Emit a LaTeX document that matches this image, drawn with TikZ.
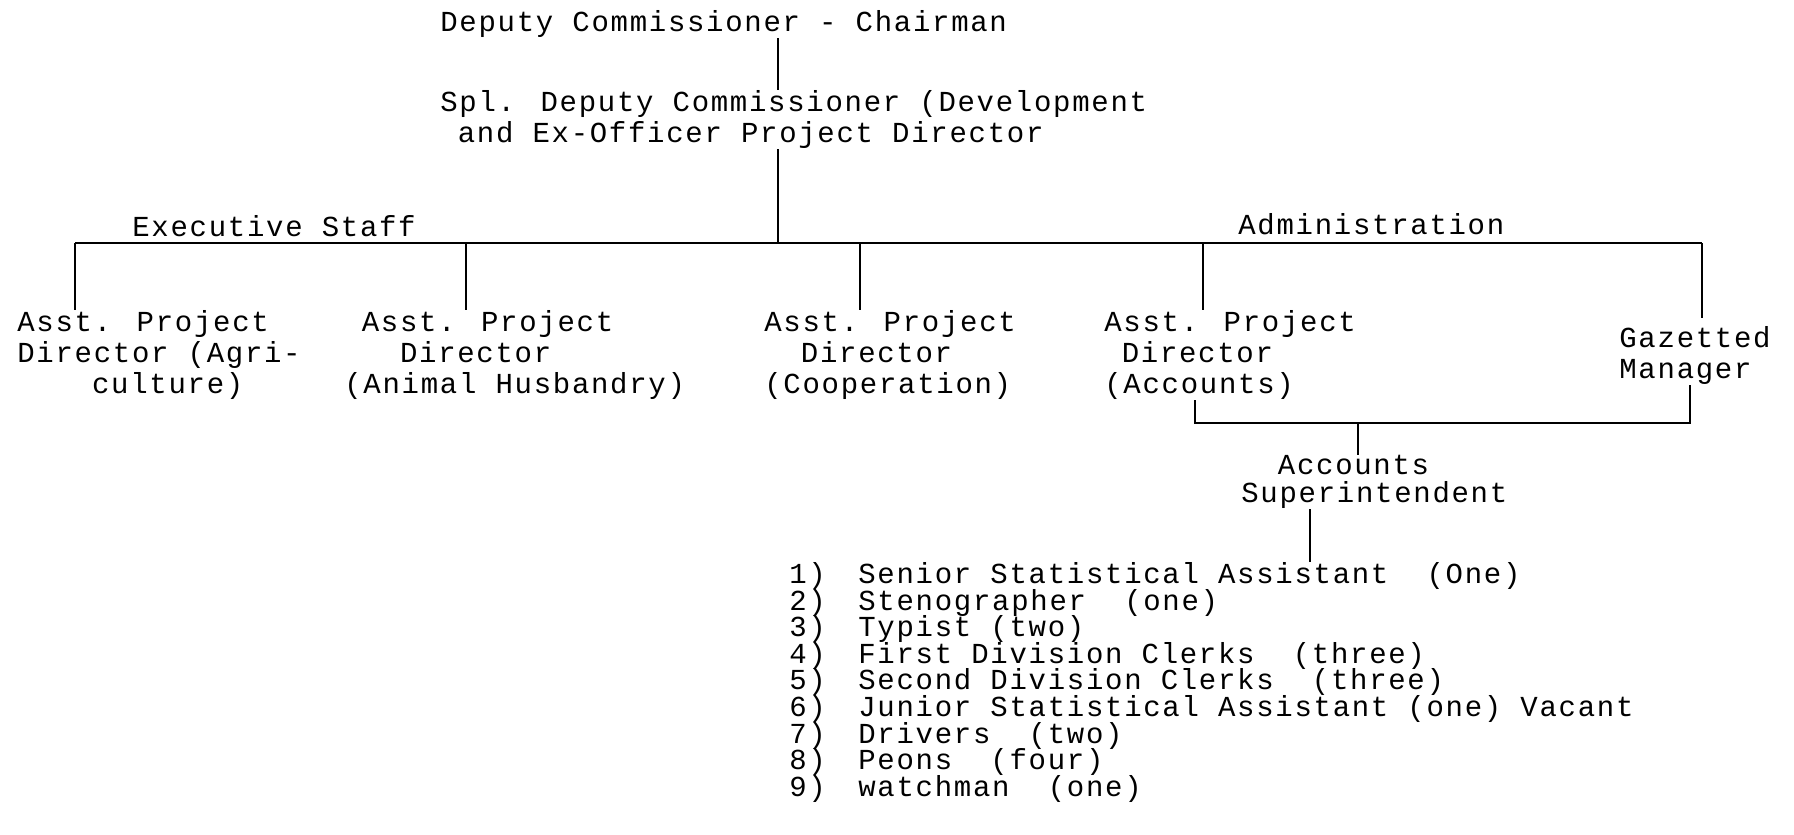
\documentclass[tikz,border=0pt]{standalone}
\usepackage{fontspec}
\setmainfont{Liberation Mono}[LetterSpace=5.9]
\begin{document}
\begin{tikzpicture}[x=0.5pt, y=-0.5pt,
  post/.style={inner sep=0pt, anchor=north west, align=left, font=\fontsize{14.5}{15.6}\selectfont},
  lbl/.style={inner sep=0pt, anchor=base west, font=\fontsize{14.5}{15.6}\selectfont},
  link/.style={line width=1.4pt}]
\useasboundingbox (0,0) rectangle (1794,835);
% top of the chart
\node[lbl] (dc) at (440,32) {Deputy Commissioner - Chairman};
\node[post] (sdc) at (440,90) {Spl. Deputy Commissioner (Development\\\phantom{x}and Ex-Officer Project Director};
\coordinate (c0) at (778,0);
\draw[link] (c0 |- dc.south) -- (c0 |- sdc.north);
\coordinate (busL) at (75,243);
\coordinate (busR) at (1702,243);
\draw[link] (c0 |- sdc.south) -- (c0 |- busL);
\draw[link] (busL) -- (busR);
\node[lbl] (exec) at (132,236) {Executive Staff};
\node[lbl] (admin) at (1238,234) {Administration};
% second level
\node[post] (apd1) at (17,310) {Asst. Project\\Director (Agri-\\\phantom{xxxx}culture)};
\node[post] (apd2) at (344,310) {\phantom{x}Asst. Project\\\phantom{xxx}Director\\(Animal Husbandry)};
\node[post] (apd3) at (764,310) {Asst. Project\\\phantom{xx}Director\\(Cooperation)};
\node[post] (apd4) at (1104,310) {Asst. Project\\\phantom{x}Director\\(Accounts)};
\node[post] (gm) at (1619,326) {Gazetted\\Manager};
\coordinate (d2) at (466,243);
\coordinate (d3) at (860,243);
\coordinate (d4) at (1203,243);
\draw[link] (busL) -- (busL |- apd1.north);
\draw[link] (d2) -- (d2 |- apd2.north);
\draw[link] (d3) -- (d3 |- apd3.north);
\draw[link] (d4) -- (d4 |- apd4.north);
\draw[link] (busR) -- ([yshift=4pt]busR |- gm.north);
% accounts
\coordinate (b1) at (1195,423);
\coordinate (b2) at (1690,423);
\coordinate (b3) at (1358,423);
\draw[link] (b1 |- apd4.south) -- (b1) -- (b2) -- (b2 |- gm.south);
\node[post, font=\fontsize{14.5}{14}\selectfont] (sup) at (1241,455) {\phantom{xx}Accounts\\Superintendent};
\draw[link] (b3) -- (b3 |- sup.north);
% staff list
\node[lbl] (n1) at (789,583) {1)};
\node[lbl] (st1) at (858,583) {Senior Statistical Assistant~~(One)};
\node[lbl] (n2) at (789,610) {2)};
\node[lbl] (st2) at (858,610) {Stenographer~~(one)};
\node[lbl] (n3) at (789,636) {3)};
\node[lbl] (st3) at (858,636) {Typist (two)};
\node[lbl] (n4) at (789,663) {4)};
\node[lbl] (st4) at (858,663) {First Division Clerks~~(three)};
\node[lbl] (n5) at (789,689) {5)};
\node[lbl] (st5) at (858,689) {Second Division Clerks~~(three)};
\node[lbl] (n6) at (789,716) {6)};
\node[lbl] (st6) at (858,716) {Junior Statistical Assistant (one) Vacant};
\node[lbl] (n7) at (789,743) {7)};
\node[lbl] (st7) at (858,743) {Drivers~~(two)};
\node[lbl] (n8) at (789,769) {8)};
\node[lbl] (st8) at (858,769) {Peons~~(four)};
\node[lbl] (n9) at (789,796) {9)};
\node[lbl] (st9) at (858,796) {watchman~~(one)};
\coordinate (c1) at (1310,0);
\draw[link] (c1 |- sup.south) -- (c1 |- st1.north);
\end{tikzpicture}
\end{document}
